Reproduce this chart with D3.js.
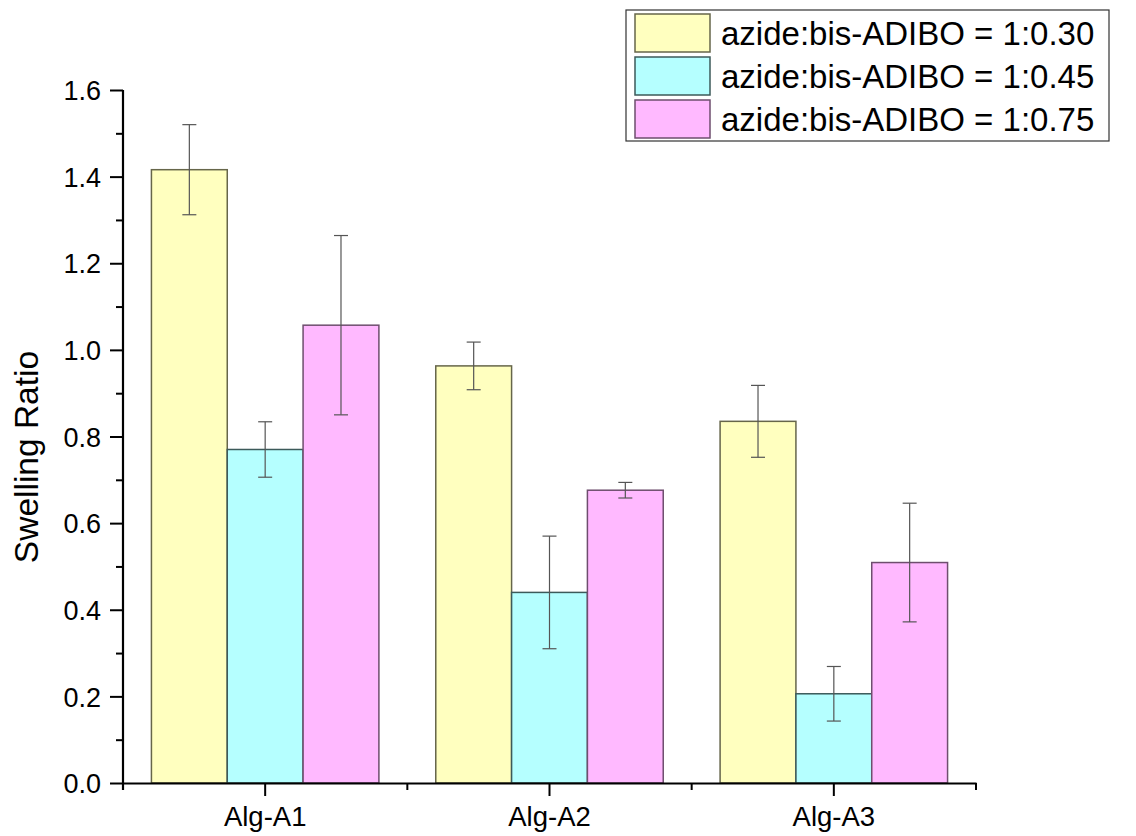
<!DOCTYPE html>
<html>
<head>
<meta charset="utf-8">
<script src="https://cdn.jsdelivr.net/npm/d3@7"></script>
<style>
    body { margin: 0; background: #fff; }
    svg { display: block; font-family: "Liberation Sans", Arial, sans-serif; }
</style>
</head>
<body>
<div id="chart"></div>
<script>
// data
const groups = ["Alg-A1", "Alg-A2", "Alg-A3"];
const series = ["azide:bis-ADIBO = 1:0.30", "azide:bis-ADIBO = 1:0.45", "azide:bis-ADIBO = 1:0.75"];
const values030 = [1.416, 0.963, 0.835];
const values045 = [0.770, 0.440, 0.206];
const values075 = [1.057, 0.676, 0.509];
const err030 = [0.104, 0.055, 0.083];
const err045 = [0.064, 0.130, 0.063];
const err075 = [0.207, 0.018, 0.137];
const yTicks = [0, 0.2, 0.4, 0.6, 0.8, 1.0, 1.2, 1.4, 1.6];
const yMinorTicks = [0.1, 0.3, 0.5, 0.7, 0.9, 1.1, 1.3, 1.5];

const fills = ["#ffffbf", "#b5ffff", "#ffb9ff"];
const strokes = ["#66664a", "#3c5a5a", "#6e4e6e"];

const width = 1136, height = 836;
const margin = {top: 90, right: 160, bottom: 53, left: 123};

const svg = d3.select("#chart").append("svg")
    .attr("width", width)
    .attr("height", height);

const x0 = d3.scaleBand()
    .domain(groups)
    .range([margin.left, width - margin.right])
    .padding(0);

const x1 = d3.scaleBand()
    .domain(series)
    .range([x0.bandwidth() * 0.1, x0.bandwidth() * 0.9])
    .padding(0);

const y = d3.scaleLinear()
    .domain([0, 1.6])
    .range([height - margin.bottom, margin.top]);

const allValues = [values030, values045, values075];
const allErr = [err030, err045, err075];

const rows = [];
groups.forEach((g, gi) => {
    series.forEach((s, si) => {
        rows.push({group: g, series: s, si: si, value: allValues[si][gi], err: allErr[si][gi]});
    });
});

// bars
svg.append("g").selectAll("rect")
    .data(rows)
    .enter()
    .append("rect")
    .attr("x", d => x0(d.group) + x1(d.series))
    .attr("y", d => y(d.value))
    .attr("width", x1.bandwidth())
    .attr("height", d => y(0) - y(d.value))
    .attr("fill", d => fills[d.si])
    .attr("stroke", d => strokes[d.si])
    .attr("stroke-width", 1.5);

// error bars
const eb = svg.append("g")
    .attr("stroke", "#555")
    .attr("stroke-width", 1.2)
    .selectAll("g")
    .data(rows)
    .enter()
    .append("g")
    .attr("transform", d => `translate(${x0(d.group) + x1(d.series) + x1.bandwidth() / 2},0)`);

eb.append("line")
    .attr("y1", d => y(d.value + d.err))
    .attr("y2", d => y(d.value - d.err));
eb.append("line")
    .attr("x1", -7).attr("x2", 7)
    .attr("y1", d => y(d.value + d.err))
    .attr("y2", d => y(d.value + d.err));
eb.append("line")
    .attr("x1", -7).attr("x2", 7)
    .attr("y1", d => y(d.value - d.err))
    .attr("y2", d => y(d.value - d.err));

// y axis
const yAxis = svg.append("g")
    .attr("transform", `translate(${margin.left},0)`)
    .call(d3.axisLeft(y).tickValues(yTicks).tickSize(13).tickSizeOuter(0).tickFormat(d3.format(".1f")));
yAxis.append("g")
    .call(d3.axisLeft(y).tickValues(yMinorTicks).tickSize(7).tickFormat(""))
    .select(".domain").remove();
yAxis.selectAll("line").attr("stroke", "#000").attr("stroke-width", 2);
yAxis.select(".domain").attr("stroke", "#000").attr("stroke-width", 2.2)
    .attr("d", `M0,${y(1.6)}V${y(0) + 7}`);
yAxis.selectAll("text")
    .attr("font-size", 27)
    .attr("fill", "#000")
    .attr("x", -22)
    .attr("dy", "0.36em");

// x axis
const xAxis = svg.append("g")
    .attr("transform", `translate(0,${y(0)})`)
    .call(d3.axisBottom(x0).tickSize(13).tickSizeOuter(0));
xAxis.select(".domain").attr("stroke", "#000").attr("stroke-width", 2.2);
xAxis.selectAll(".tick line").attr("stroke", "#000").attr("stroke-width", 2);
xAxis.selectAll(".tick text")
    .attr("font-size", 27.5)
    .attr("fill", "#000")
    .attr("y", 23)
    .attr("dy", "0.71em");

const bounds = groups.map(g => x0(g)).concat([x0(groups[groups.length - 1]) + x0.step()]);
xAxis.selectAll(".minor")
    .data(bounds)
    .enter()
    .append("line")
    .attr("class", "minor")
    .attr("x1", d => d).attr("x2", d => d)
    .attr("y1", 0).attr("y2", 7)
    .attr("stroke", "#000")
    .attr("stroke-width", 2);

// y title
svg.append("text")
    .attr("transform", `translate(${26},${457}) rotate(-90)`)
    .attr("text-anchor", "middle")
    .attr("dominant-baseline", "central")
    .attr("font-size", 33.5)
    .attr("fill", "#000")
    .text("Swelling Ratio");

// legend
const legend = svg.append("g").attr("transform", "translate(626,10)");
legend.append("rect")
    .attr("width", 483)
    .attr("height", 131)
    .attr("fill", "#fff")
    .attr("stroke", "#333")
    .attr("stroke-width", 1.2);

const item = legend.selectAll(".item")
    .data(series)
    .enter()
    .append("g")
    .attr("class", "item")
    .attr("transform", (d, i) => `translate(9,${4 + i * 43})`);

item.append("rect")
    .attr("width", 75)
    .attr("height", 38)
    .attr("fill", (d, i) => fills[i])
    .attr("stroke", (d, i) => strokes[i])
    .attr("stroke-width", 1.5);

item.append("text")
    .attr("x", 86)
    .attr("y", 19)
    .attr("dy", "0.36em")
    .attr("font-size", 33)
    .attr("fill", "#000")
    .text(d => d);
</script>
</body>
</html>
